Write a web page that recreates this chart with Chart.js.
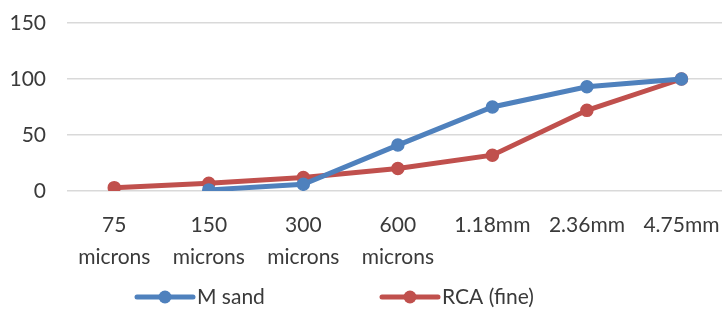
<!DOCTYPE html>
<html>
<head>
<meta charset="utf-8">
<script src="https://cdn.jsdelivr.net/npm/chart.js@4/dist/chart.umd.min.js"></script>
<style>
  html, body { margin: 0; padding: 0; background: #fff; overflow: hidden; }
  #wrap { width: 738px; height: 310px; }
</style>
</head>
<body>
<div id="wrap"><canvas id="grafico" width="738" height="310"></canvas></div>
<script>
// datos
const tamices = [['75', 'microns'], ['150', 'microns'], ['300', 'microns'], ['600', 'microns'], '1.18mm', '2.36mm', '4.75mm'];
const mSand = [null, 1, 6, 41, 75, 93, 100];
const rcaFina = [3, 7, 12, 20, 32, 72, 100];
const ticksY = [0, 50, 100, 150];

const AZUL = '#4F81BD';
const ROJO = '#C0504D';
const TEXTO = '#3a3a3a';

Chart.defaults.font.family = "Lato, 'Open Sans', sans-serif";
Chart.defaults.color = TEXTO;

// leyenda estilo Excel (línea con punto)
const leyendaExcel = {
    id: 'leyendaExcel',
    afterDraw(chart) {
        const ctx = chart.ctx;
        const posiciones = [137, 382];
        const y = 297;
        chart.data.datasets.forEach((ds, i) => {
            const x = posiciones[i];
            ctx.save();
            ctx.strokeStyle = ds.borderColor;
            ctx.lineWidth = 5;
            ctx.lineCap = 'round';
            ctx.beginPath();
            ctx.moveTo(x, y);
            ctx.lineTo(x + 56, y);
            ctx.stroke();
            ctx.fillStyle = ds.borderColor;
            ctx.beginPath();
            ctx.arc(x + 28, y, 6.5, 0, Math.PI * 2);
            ctx.fill();
            ctx.fillStyle = TEXTO;
            ctx.font = "21px Lato, 'Open Sans', sans-serif";
            ctx.textBaseline = 'middle';
            ctx.fillText(ds.label, x + 60, y);
            ctx.restore();
        });
    }
};

const ctx = document.getElementById('grafico').getContext('2d');
new Chart(ctx, {
    type: 'line',
    data: {
        labels: tamices,
        datasets: [{
            label: 'M sand',
            data: mSand,
            borderColor: AZUL,
            backgroundColor: AZUL,
            borderWidth: 5,
            pointRadius: 6,
            pointBorderWidth: 1.5,
            tension: 0
        }, {
            label: 'RCA (fine)',
            data: rcaFina,
            borderColor: ROJO,
            backgroundColor: ROJO,
            borderWidth: 5,
            pointRadius: 6,
            pointBorderWidth: 1.5,
            tension: 0
        }]
    },
    options: {
        responsive: false,
        animation: false,
        layout: { padding: { top: 23, right: 3, left: 0, bottom: 0 } },
        plugins: {
            legend: { display: false },
            tooltip: { enabled: false }
        },
        scales: {
            x: {
                offset: true,
                grid: { display: false, drawTicks: false },
                border: { display: false },
                ticks: {
                    font: { size: 21, lineHeight: 1.52 },
                    color: TEXTO,
                    maxRotation: 0,
                    autoSkip: false,
                    padding: 18
                },
                afterFit(scale) { scale.height = 119; }
            },
            y: {
                min: 0,
                max: 150,
                afterBuildTicks(scale) { scale.ticks = ticksY.map(v => ({ value: v })); },
                grid: { color: '#D9D9D9', lineWidth: 1.5, drawTicks: false },
                border: { display: false },
                ticks: {
                    font: { size: 21 },
                    color: TEXTO,
                    padding: 21
                },
                afterFit(scale) {
                    scale.width = 67;
                    scale.paddingTop = 0;
                    scale.paddingBottom = 0;
                }
            }
        }
    },
    plugins: [leyendaExcel]
});
</script>
</body>
</html>
